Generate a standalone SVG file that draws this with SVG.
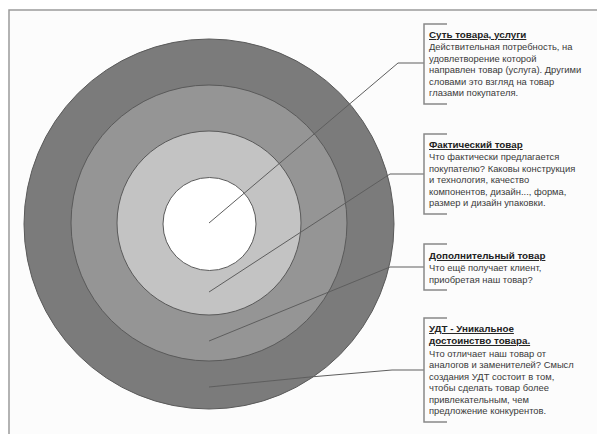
<svg xmlns="http://www.w3.org/2000/svg" width="597" height="434" viewBox="0 0 597 434">
<style>
.ring{stroke:#5a5a5a;stroke-width:1}
.conn{fill:none;stroke:#5e5e5e;stroke-width:1}
.br{fill:none;stroke:#888;stroke-width:1.5}
.t{font-family:"Liberation Sans",Arial,sans-serif;font-size:9.4px;fill:#3a3a3a}
.h{font-weight:bold;text-decoration:underline;font-size:9.8px;fill:#222}
</style>
<rect x="0" y="0" width="597" height="434" fill="#ffffff"/>
<rect x="9" y="10" width="588" height="424" fill="#fcfcfc"/>
<path d="M9 434V10H597" fill="none" stroke="#9a9a9a" stroke-width="1.5"/>
<g id="ring-udt"><circle class="ring" cx="209" cy="224" r="185" fill="#7b7b7b"/></g>
<g id="ring-extra"><circle class="ring" cx="209" cy="223" r="138" fill="#959595"/></g>
<g id="ring-actual"><circle class="ring" cx="209" cy="223" r="92" fill="#c3c3c3"/></g>
<g id="ring-core"><circle class="ring" cx="209.5" cy="224" r="46.5" fill="#ffffff"/></g>
<g id="connectors">
<path class="conn" d="M209 223L398 63H424"/>
<path class="conn" d="M209 292L390 174H424"/>
<path class="conn" d="M209 341L390 267H424"/>
<path class="conn" d="M209 387L310 377L392 370H424"/>
</g>
<g id="label-core">
<path class="br" d="M447 24H424V104H447"/>
<text class="t h" x="429" y="38">Суть товара, услуги</text>
<text class="t" x="429" y="50">Действительная потребность, на</text>
<text class="t" x="429" y="61.5">удовлетворение которой</text>
<text class="t" x="429" y="73">направлен товар (услуга). Другими</text>
<text class="t" x="429" y="84.5">словами это взгляд на товар</text>
<text class="t" x="429" y="96">глазами покупателя.</text>
</g>
<g id="label-actual">
<path class="br" d="M447 134H424V214H447"/>
<text class="t h" x="429" y="148">Фактический товар</text>
<text class="t" x="429" y="160">Что фактически предлагается</text>
<text class="t" x="429" y="171.5">покупателю? Каковы конструкция</text>
<text class="t" x="429" y="183">и технология, качество</text>
<text class="t" x="429" y="194.5">компонентов, дизайн..., форма,</text>
<text class="t" x="429" y="206">размер и дизайн упаковки.</text>
</g>
<g id="label-extra">
<path class="br" d="M447 244H424V290H447"/>
<text class="t h" x="429" y="259">Дополнительный товар</text>
<text class="t" x="429" y="271">Что ещё получает клиент,</text>
<text class="t" x="429" y="282.5">приобретая наш товар?</text>
</g>
<g id="label-udt">
<path class="br" d="M447 318H424V422H447"/>
<text class="t h" x="429" y="332">УДТ - Уникальное</text>
<text class="t h" x="429" y="344">достоинство товара.</text>
<text class="t" x="429" y="356.5">Что отличает наш товар от</text>
<text class="t" x="429" y="368">аналогов и заменителей? Смысл</text>
<text class="t" x="429" y="379.5">создания УДТ состоит в том,</text>
<text class="t" x="429" y="391">чтобы сделать товар более</text>
<text class="t" x="429" y="402.5">привлекательным, чем</text>
<text class="t" x="429" y="414">предложение конкурентов.</text>
</g>
</svg>
